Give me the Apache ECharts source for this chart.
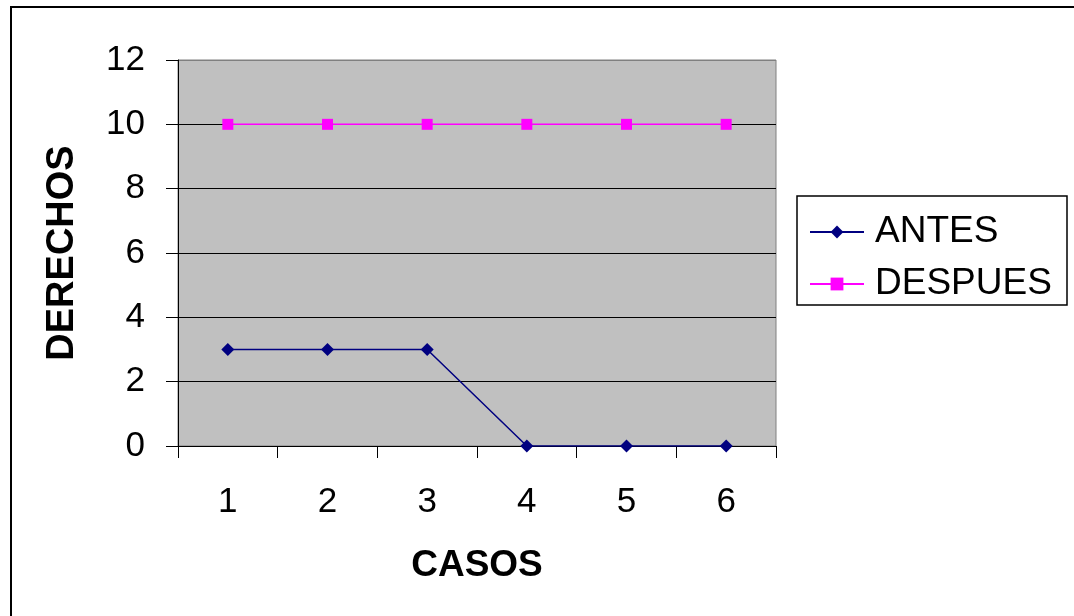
<!DOCTYPE html>
<html>
<head>
<meta charset="utf-8">
<script src="https://cdn.jsdelivr.net/npm/echarts@6/dist/echarts.min.js"></script>
<style>
html,body{margin:0;padding:0;background:#fff;}
#c{width:1074px;height:616px;}
</style>
</head>
<body>
<div id="c"></div>
<script>
var categories = ['1','2','3','4','5','6'];
var antes = [3,3,3,0,0,0];
var despues = [10,10,10,10,10,10];
var yTicks = {min:0, max:12, interval:2};

var FONT = '"Liberation Sans", Arial, sans-serif';
var chart = echarts.init(document.getElementById('c'));
chart.setOption({
  animation:false,
  backgroundColor:'#fff',
  graphic:[
    {type:'rect', shape:{x:11,y:7,width:1100,height:700}, style:{fill:'none',stroke:'#000',lineWidth:2}, z:100},
    {type:'rect', shape:{x:797,y:196,width:270,height:109}, style:{fill:'#fff',stroke:'#000',lineWidth:1.5}, z:1}
  ],
  grid:{left:178, top:60, right:298, bottom:170, show:true, backgroundColor:'#C0C0C0', borderColor:'#808080', borderWidth:1},
  legend:{
    orient:'vertical', left:809, top:212, padding:0, itemGap:12,
    itemWidth:54, itemHeight:16,
    textStyle:{fontFamily:FONT, fontSize:37, color:'#000', lineHeight:40, padding:[0,0,0,6]},
    data:['ANTES','DESPUES'],
    z:5
  },
  xAxis:{
    type:'category', data:categories, boundaryGap:true,
    name:'CASOS', nameLocation:'middle', nameGap:101,
    nameTextStyle:{fontFamily:FONT, fontSize:37, fontWeight:'bold', color:'#000'},
    axisLine:{lineStyle:{color:'#000', width:1}},
    axisTick:{show:true, length:12, lineStyle:{color:'#000'}},
    axisLabel:{fontFamily:FONT, fontSize:35, color:'#000', margin:39},
    splitLine:{show:false}
  },
  yAxis:{
    type:'value', min:yTicks.min, max:yTicks.max, interval:yTicks.interval,
    name:'DERECHOS', nameLocation:'middle', nameGap:96, nameRotate:90,
    nameTextStyle:{fontFamily:FONT, fontSize:38, fontWeight:'bold', color:'#000'},
    axisLine:{show:true, lineStyle:{color:'#000', width:1}},
    axisTick:{show:true, length:12, lineStyle:{color:'#000'}},
    axisLabel:{fontFamily:FONT, fontSize:35, color:'#000', margin:33},
    splitLine:{show:true, lineStyle:{color:['#000','#000','#000','#000','#000','#000','#808080'], width:1}}
  },
  series:[
    {name:'ANTES', type:'line', data:antes, symbol:'diamond', symbolSize:13,
     lineStyle:{color:'#000080', width:1.5}, itemStyle:{color:'#000080'}, z:3},
    {name:'DESPUES', type:'line', data:despues, symbol:'rect', symbolSize:11,
     lineStyle:{color:'#FF00FF', width:1.5}, itemStyle:{color:'#FF00FF'}, z:3}
  ]
});
</script>
</body>
</html>
